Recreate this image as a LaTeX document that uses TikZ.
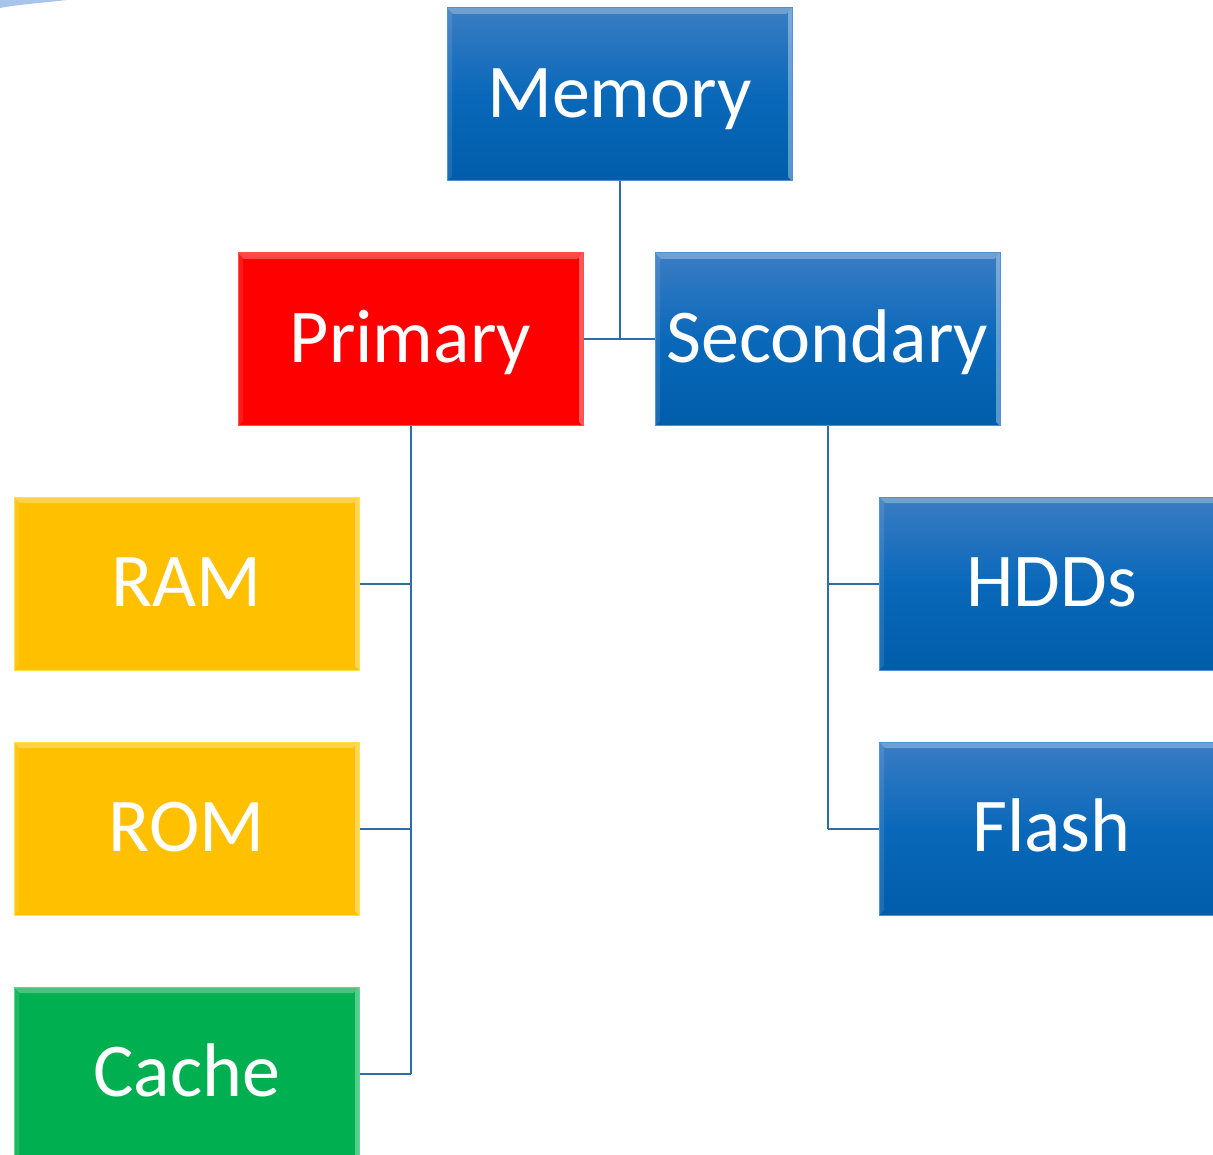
\documentclass[tikz,border=0pt]{standalone}
\usepackage{fontspec}
\setmainfont{Carlito}
\definecolor{lineblue}{HTML}{2E6DA8}
\definecolor{bluetop}{HTML}{3A7DC3}
\definecolor{bluemid}{HTML}{0A68BA}
\definecolor{bluebot}{HTML}{005DAA}
\definecolor{blueedge}{HTML}{4F8FD2}
\definecolor{boxred}{HTML}{FF0000}
\definecolor{rededge}{HTML}{FF5050}
\definecolor{boxyellow}{HTML}{FFC000}
\definecolor{yellowedge}{HTML}{FFE24A}
\definecolor{boxgreen}{HTML}{00B050}
\definecolor{greenedge}{HTML}{50E090}
\definecolor{cornerblue}{HTML}{A9C4EB}
\tikzset{
  x=1pt, y=-1pt,
  memorybox/.style={rectangle, minimum width=345pt, minimum height=173pt, inner sep=0pt,
    text=white, font=\fontsize{76}{80}\selectfont, line width=1pt,
    text depth=0pt, text height=0pt,
    path picture={
      \fill[white,opacity=.28] (path picture bounding box.north west) -- (path picture bounding box.north east)
        -- ([xshift=-6pt,yshift=-6pt]path picture bounding box.north east) -- ([xshift=6pt,yshift=-6pt]path picture bounding box.north west) -- cycle;
      \fill[white,opacity=.35] (path picture bounding box.north east) -- (path picture bounding box.south east)
        -- ([xshift=-4pt,yshift=4pt]path picture bounding box.south east) -- ([xshift=-4pt,yshift=-4pt]path picture bounding box.north east) -- cycle;
      \fill[white,opacity=.10] (path picture bounding box.north west) -- (path picture bounding box.south west)
        -- ([xshift=5pt,yshift=5pt]path picture bounding box.south west) -- ([xshift=5pt,yshift=-5pt]path picture bounding box.north west) -- cycle;
    }},
  bluebox/.style={memorybox, draw=blueedge, top color=bluetop, bottom color=bluebot, middle color=bluemid},
  redbox/.style={memorybox, draw=rededge, fill=boxred},
  yellowbox/.style={memorybox, draw=yellowedge, fill=boxyellow},
  greenbox/.style={memorybox, draw=greenedge, fill=boxgreen},
  boxtext/.style={text=white, font=\fontsize{76}{80}\selectfont, anchor=base},
  link/.style={draw=lineblue, line width=2pt}
}
\begin{document}
\begin{tikzpicture}
\useasboundingbox (0,0) rectangle (1213,1155);
\clip (0,0) rectangle (1213,1155);
\fill[white] (0,0) rectangle (1213,1155);
\fill[cornerblue] (0,0) -- (67,0) .. controls (40,3) and (15,5) .. (0,8) -- cycle;

\node[bluebox]   (memory)    at (619.5,94.5)  {};
\node[redbox]    (primary)   at (410.5,339.5) {};
\node[bluebox]   (secondary) at (827.5,339.5) {};
\node[yellowbox] (ram)       at (186.5,583.5) {};
\node[yellowbox] (rom)       at (186.5,828.5) {};
\node[greenbox]  (cache)     at (186.5,1073.5){};
\node[bluebox]   (hdds)      at (1051.5,583.5){};
\node[bluebox]   (flash)     at (1051.5,828.5){};

\node[boxtext] (tmemory)    at ([yshift=-23pt]memory.center)    {Memory};
\node[boxtext] (tprimary)   at ([yshift=-23pt]primary.center)   {Primary};
\node[boxtext] (tsecondary) at ([yshift=-23pt]secondary.center) {Secondary};
\node[boxtext] (tram)       at ([yshift=-23pt]ram.center)       {RAM};
\node[boxtext] (trom)       at ([yshift=-23pt]rom.center)       {ROM};
\node[boxtext] (tcache)     at ([yshift=-23pt]cache.center)     {Cache};
\node[boxtext] (thdds)      at ([yshift=-23pt]hdds.center)      {HDDs};
\node[boxtext] (tflash)     at ([yshift=-23pt]flash.center)     {Flash};

% connectors
\coordinate (mjoin) at (memory.south |- primary.east);
\draw[link] (memory.south) -- (mjoin);
\draw[link] (primary.east) -- (secondary.west);

\coordinate (pend) at (primary.south |- cache.east);
\draw[link] (primary.south) -- (pend);
\draw[link] (ram.east) -- (primary.south |- ram.east);
\draw[link] (rom.east) -- (primary.south |- rom.east);
\draw[link] (cache.east) -- (pend);

\coordinate (send) at (secondary.south |- flash.west);
\draw[link] (secondary.south) -- (send);
\draw[link] (hdds.west) -- (secondary.south |- hdds.west);
\draw[link] (flash.west) -- (send);
\end{tikzpicture}
\end{document}
